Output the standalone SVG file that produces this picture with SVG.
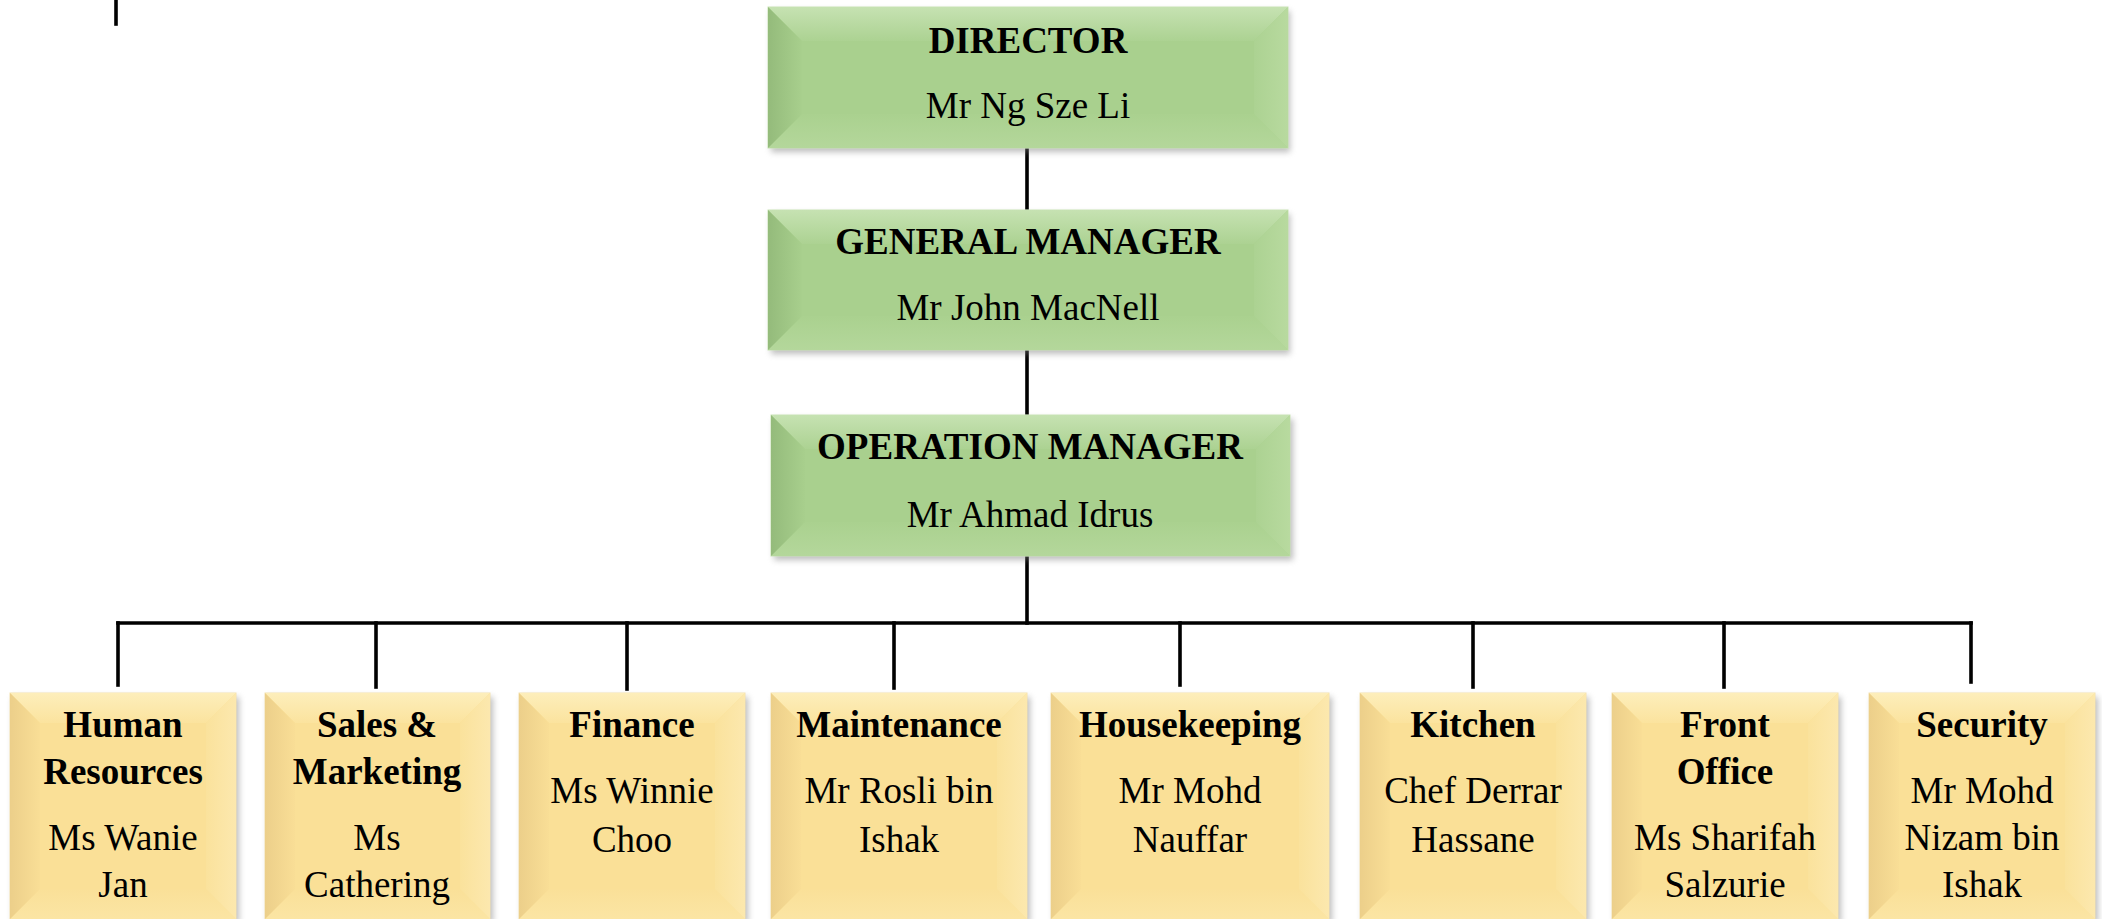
<svg xmlns="http://www.w3.org/2000/svg" width="2102" height="919" viewBox="0 0 2102 919">
<defs>
<filter id="sh" x="-10%" y="-10%" width="120%" height="130%">
<feGaussianBlur stdDeviation="3"/>
</filter>
<linearGradient id="gT" x1="0" y1="0" x2="0" y2="1"><stop offset="0" stop-color="#c6e2b2"/><stop offset="1" stop-color="#acd292"/></linearGradient>
<linearGradient id="gB" x1="0" y1="0" x2="0" y2="1"><stop offset="0" stop-color="#aad18f"/><stop offset="1" stop-color="#b4d79b"/></linearGradient>
<linearGradient id="gL" x1="0" y1="0" x2="1" y2="0"><stop offset="0" stop-color="#94bb7b"/><stop offset="1" stop-color="#a8cf8d"/></linearGradient>
<linearGradient id="gR" x1="0" y1="0" x2="1" y2="0"><stop offset="0" stop-color="#acd292"/><stop offset="1" stop-color="#b8da9f"/></linearGradient>
<linearGradient id="yT" x1="0" y1="0" x2="0" y2="1"><stop offset="0" stop-color="#fdeebb"/><stop offset="1" stop-color="#fbe39e"/></linearGradient>
<linearGradient id="yB" x1="0" y1="0" x2="0" y2="1"><stop offset="0" stop-color="#fae098"/><stop offset="1" stop-color="#fbe5a4"/></linearGradient>
<linearGradient id="yL" x1="0" y1="0" x2="1" y2="0"><stop offset="0" stop-color="#eccf8a"/><stop offset="1" stop-color="#f9de96"/></linearGradient>
<linearGradient id="yR" x1="0" y1="0" x2="1" y2="0"><stop offset="0" stop-color="#fae29c"/><stop offset="1" stop-color="#fce8ae"/></linearGradient>
</defs>
<style>
.shadow{fill:#7a7a7a;opacity:0.5;filter:url(#sh)}
.gbase{fill:#a9d08e;stroke:#c9e3b6;stroke-width:1}
.ybase{fill:#fae097;stroke:#f3e2b0;stroke-width:1}
.gt{fill:url(#gT)} .gb{fill:url(#gB)} .gl{fill:url(#gL)} .gr{fill:url(#gR)}
.yt{fill:url(#yT)} .yb{fill:url(#yB)} .yl{fill:url(#yL)} .yr{fill:url(#yR)}
text{font-family:"Liberation Serif","Times New Roman",serif;font-size:37px;fill:#000;text-anchor:middle}
.t{font-weight:bold}
.conn line{stroke:#000;stroke-width:3.6;stroke-linecap:square}
</style>

<g class="conn" id="connectors">
<line x1="116" y1="0" x2="116" y2="24"/>
<line x1="1027" y1="150" x2="1027" y2="208"/>
<line x1="1027" y1="352" x2="1027" y2="413"/>
<line x1="1027" y1="558" x2="1027" y2="623"/>
<line x1="118" y1="623" x2="1971" y2="623"/>
<line x1="118" y1="623" x2="118" y2="685"/>
<line x1="376" y1="623" x2="376" y2="687"/>
<line x1="627" y1="623" x2="627" y2="689"/>
<line x1="894" y1="623" x2="894" y2="688"/>
<line x1="1180" y1="623" x2="1180" y2="685"/>
<line x1="1473" y1="623" x2="1473" y2="687"/>
<line x1="1724" y1="623" x2="1724" y2="687"/>
<line x1="1971" y1="623" x2="1971" y2="682"/>
</g>

<g id="director">
<rect class="shadow" x="771" y="11" width="519" height="141"/>
<rect class="gbase" x="768" y="7" width="520" height="141"/>
<polygon class="gt" points="768,7 1288,7 1254,41 802,41"/>
<polygon class="gb" points="768,148 1288,148 1254,114 802,114"/>
<polygon class="gl" points="768,7 802,41 802,114 768,148"/>
<polygon class="gr" points="1254,41 1288,7 1288,148 1254,114"/>
<rect x="802" y="41" width="452" height="73" fill="#a9d08e"/>
<text class="t" x="1028" y="53">DIRECTOR</text>
<text x="1028" y="118">Mr Ng Sze Li</text>
</g>

<g id="general-manager">
<rect class="shadow" x="771" y="214" width="519" height="140"/>
<rect class="gbase" x="768" y="210" width="520" height="140"/>
<polygon class="gt" points="768,210 1288,210 1254,244 802,244"/>
<polygon class="gb" points="768,350 1288,350 1254,316 802,316"/>
<polygon class="gl" points="768,210 802,244 802,316 768,350"/>
<polygon class="gr" points="1254,244 1288,210 1288,350 1254,316"/>
<rect x="802" y="244" width="452" height="72" fill="#a9d08e"/>
<text class="t" x="1028" y="254">GENERAL MANAGER</text>
<text x="1028" y="320">Mr John MacNell</text>
</g>

<g id="operation-manager">
<rect class="shadow" x="774" y="419" width="519" height="141"/>
<rect class="gbase" x="771" y="415" width="519" height="141"/>
<polygon class="gt" points="771,415 1290,415 1256,449 805,449"/>
<polygon class="gb" points="771,556 1290,556 1256,522 805,522"/>
<polygon class="gl" points="771,415 805,449 805,522 771,556"/>
<polygon class="gr" points="1256,449 1290,415 1290,556 1256,522"/>
<rect x="805" y="449" width="451" height="73" fill="#a9d08e"/>
<text class="t" x="1030" y="459">OPERATION MANAGER</text>
<text x="1030" y="527">Mr Ahmad Idrus</text>
</g>

<g id="human-resources">
<rect class="shadow" x="13" y="697" width="226" height="226"/>
<rect class="ybase" x="10" y="693" width="226" height="226"/>
<polygon class="yt" points="10,693 236,693 206,723 40,723"/>
<polygon class="yb" points="10,919 236,919 206,889 40,889"/>
<polygon class="yl" points="10,693 40,723 40,889 10,919"/>
<polygon class="yr" points="206,723 236,693 236,919 206,889"/>
<rect x="40" y="723" width="166" height="166" fill="#fae097"/>
<text class="t" x="123" y="737">Human</text>
<text class="t" x="123" y="784">Resources</text>
<text x="123" y="850">Ms Wanie</text>
<text x="123" y="897">Jan</text>
</g>

<g id="sales-marketing">
<rect class="shadow" x="268" y="697" width="225" height="226"/>
<rect class="ybase" x="265" y="693" width="225" height="226"/>
<polygon class="yt" points="265,693 490,693 460,723 295,723"/>
<polygon class="yb" points="265,919 490,919 460,889 295,889"/>
<polygon class="yl" points="265,693 295,723 295,889 265,919"/>
<polygon class="yr" points="460,723 490,693 490,919 460,889"/>
<rect x="295" y="723" width="165" height="166" fill="#fae097"/>
<text class="t" x="377" y="737">Sales &amp;</text>
<text class="t" x="377" y="784">Marketing</text>
<text x="377" y="850">Ms</text>
<text x="377" y="897">Cathering</text>
</g>

<g id="finance">
<rect class="shadow" x="522" y="697" width="226" height="226"/>
<rect class="ybase" x="519" y="693" width="226" height="226"/>
<polygon class="yt" points="519,693 745,693 715,723 549,723"/>
<polygon class="yb" points="519,919 745,919 715,889 549,889"/>
<polygon class="yl" points="519,693 549,723 549,889 519,919"/>
<polygon class="yr" points="715,723 745,693 745,919 715,889"/>
<rect x="549" y="723" width="166" height="166" fill="#fae097"/>
<text class="t" x="632" y="737">Finance</text>
<text x="632" y="803">Ms Winnie</text>
<text x="632" y="852">Choo</text>
</g>

<g id="maintenance">
<rect class="shadow" x="774" y="697" width="256" height="226"/>
<rect class="ybase" x="771" y="693" width="256" height="226"/>
<polygon class="yt" points="771,693 1027,693 997,723 801,723"/>
<polygon class="yb" points="771,919 1027,919 997,889 801,889"/>
<polygon class="yl" points="771,693 801,723 801,889 771,919"/>
<polygon class="yr" points="997,723 1027,693 1027,919 997,889"/>
<rect x="801" y="723" width="196" height="166" fill="#fae097"/>
<text class="t" x="899" y="737">Maintenance</text>
<text x="899" y="803">Mr Rosli bin</text>
<text x="899" y="852">Ishak</text>
</g>

<g id="housekeeping">
<rect class="shadow" x="1054" y="697" width="278" height="226"/>
<rect class="ybase" x="1051" y="693" width="278" height="226"/>
<polygon class="yt" points="1051,693 1329,693 1299,723 1081,723"/>
<polygon class="yb" points="1051,919 1329,919 1299,889 1081,889"/>
<polygon class="yl" points="1051,693 1081,723 1081,889 1051,919"/>
<polygon class="yr" points="1299,723 1329,693 1329,919 1299,889"/>
<rect x="1081" y="723" width="218" height="166" fill="#fae097"/>
<text class="t" x="1190" y="737">Housekeeping</text>
<text x="1190" y="803">Mr Mohd</text>
<text x="1190" y="852">Nauffar</text>
</g>

<g id="kitchen">
<rect class="shadow" x="1363" y="697" width="226" height="226"/>
<rect class="ybase" x="1360" y="693" width="226" height="226"/>
<polygon class="yt" points="1360,693 1586,693 1556,723 1390,723"/>
<polygon class="yb" points="1360,919 1586,919 1556,889 1390,889"/>
<polygon class="yl" points="1360,693 1390,723 1390,889 1360,919"/>
<polygon class="yr" points="1556,723 1586,693 1586,919 1556,889"/>
<rect x="1390" y="723" width="166" height="166" fill="#fae097"/>
<text class="t" x="1473" y="737">Kitchen</text>
<text x="1473" y="803">Chef Derrar</text>
<text x="1473" y="852">Hassane</text>
</g>

<g id="front-office">
<rect class="shadow" x="1615" y="697" width="226" height="226"/>
<rect class="ybase" x="1612" y="693" width="226" height="226"/>
<polygon class="yt" points="1612,693 1838,693 1808,723 1642,723"/>
<polygon class="yb" points="1612,919 1838,919 1808,889 1642,889"/>
<polygon class="yl" points="1612,693 1642,723 1642,889 1612,919"/>
<polygon class="yr" points="1808,723 1838,693 1838,919 1808,889"/>
<rect x="1642" y="723" width="166" height="166" fill="#fae097"/>
<text class="t" x="1725" y="737">Front</text>
<text class="t" x="1725" y="784">Office</text>
<text x="1725" y="850">Ms Sharifah</text>
<text x="1725" y="897">Salzurie</text>
</g>

<g id="security">
<rect class="shadow" x="1872" y="697" width="226" height="226"/>
<rect class="ybase" x="1869" y="693" width="226" height="226"/>
<polygon class="yt" points="1869,693 2095,693 2065,723 1899,723"/>
<polygon class="yb" points="1869,919 2095,919 2065,889 1899,889"/>
<polygon class="yl" points="1869,693 1899,723 1899,889 1869,919"/>
<polygon class="yr" points="2065,723 2095,693 2095,919 2065,889"/>
<rect x="1899" y="723" width="166" height="166" fill="#fae097"/>
<text class="t" x="1982" y="737">Security</text>
<text x="1982" y="803">Mr Mohd</text>
<text x="1982" y="850">Nizam bin</text>
<text x="1982" y="897">Ishak</text>
</g>
</svg>
